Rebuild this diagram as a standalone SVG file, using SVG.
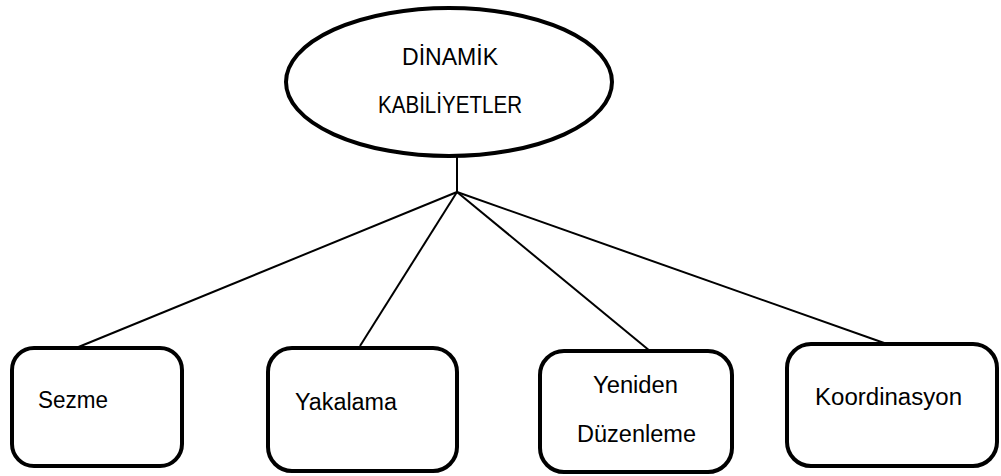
<svg xmlns="http://www.w3.org/2000/svg" width="1001" height="476" viewBox="0 0 1001 476">
  <style>
    .shape { fill: #ffffff; stroke: #000000; stroke-width: 4; }
    .link { stroke: #000000; stroke-width: 2; fill: none; }
    .label { font-family: "Liberation Sans", Arial, sans-serif; font-size: 23px; fill: #000000; }
  </style>
  <rect x="0" y="0" width="1001" height="476" fill="#ffffff"/>

  <g id="connectors">
    <line class="link" x1="457" y1="157" x2="457" y2="192"/>
    <line class="link" x1="457" y1="192" x2="76" y2="348"/>
    <line class="link" x1="457" y1="192" x2="360" y2="346"/>
    <line class="link" x1="457" y1="192" x2="650" y2="351"/>
    <line class="link" x1="457" y1="192" x2="887" y2="344"/>
  </g>

  <g id="dinamik-kabiliyetler">
    <ellipse class="shape" cx="449" cy="82" rx="163" ry="74"/>
    <text class="label" x="450" y="65" text-anchor="middle" textLength="96" lengthAdjust="spacingAndGlyphs">DİNAMİK</text>
    <text class="label" x="450" y="113" text-anchor="middle" textLength="144" lengthAdjust="spacingAndGlyphs">KABİLİYETLER</text>
  </g>

  <g id="sezme">
    <rect class="shape" x="12" y="348" width="170" height="118" rx="22"/>
    <text class="label" x="38" y="408" textLength="70" lengthAdjust="spacingAndGlyphs">Sezme</text>
  </g>

  <g id="yakalama">
    <rect class="shape" x="268" y="348" width="189" height="123" rx="24"/>
    <text class="label" x="295" y="410" textLength="102" lengthAdjust="spacingAndGlyphs">Yakalama</text>
  </g>

  <g id="yeniden-duzenleme">
    <rect class="shape" x="540" y="351" width="192" height="121" rx="24"/>
    <text class="label" x="593" y="393" textLength="85" lengthAdjust="spacingAndGlyphs">Yeniden</text>
    <text class="label" x="577" y="442" textLength="119" lengthAdjust="spacingAndGlyphs">Düzenleme</text>
  </g>

  <g id="koordinasyon">
    <rect class="shape" x="787" y="344" width="210" height="122" rx="24"/>
    <text class="label" x="815" y="405" textLength="147" lengthAdjust="spacingAndGlyphs">Koordinasyon</text>
  </g>
</svg>
